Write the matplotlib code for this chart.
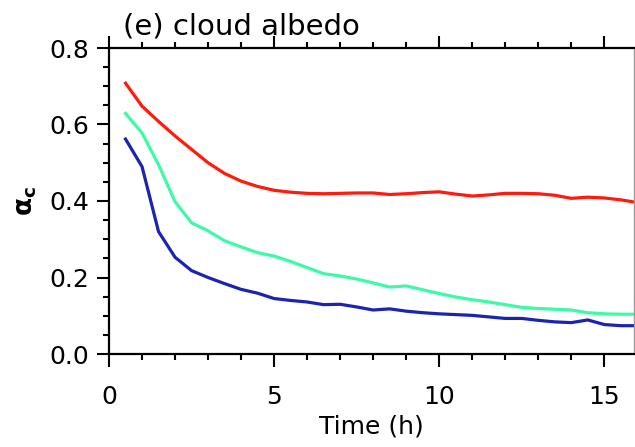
import numpy as np
import matplotlib
matplotlib.use('Agg')
import matplotlib.pyplot as plt
from matplotlib.ticker import MultipleLocator, FormatStrFormatter

# time axis, half-hourly output
time_h = np.arange(0.5, 16.01, 0.5)

# cloud albedo for the three runs
alpha_red = [0.708, 0.648, 0.608, 0.570, 0.535, 0.500, 0.472, 0.452,
             0.438, 0.428, 0.423, 0.420, 0.419, 0.420, 0.421, 0.421,
             0.417, 0.419, 0.422, 0.424, 0.418, 0.413, 0.416, 0.420,
             0.420, 0.419, 0.415, 0.407, 0.410, 0.408, 0.403, 0.396]
alpha_green = [0.629, 0.578, 0.495, 0.398, 0.343, 0.322, 0.296, 0.280,
               0.265, 0.256, 0.242, 0.226, 0.210, 0.204, 0.196, 0.186,
               0.175, 0.178, 0.168, 0.158, 0.149, 0.142, 0.136, 0.129,
               0.122, 0.119, 0.117, 0.115, 0.108, 0.105, 0.104, 0.104]
alpha_blue = [0.562, 0.490, 0.320, 0.253, 0.218, 0.200, 0.184, 0.169,
              0.159, 0.145, 0.140, 0.136, 0.129, 0.130, 0.123, 0.115,
              0.118, 0.112, 0.108, 0.105, 0.103, 0.101, 0.097, 0.093,
              0.093, 0.088, 0.084, 0.082, 0.089, 0.077, 0.074, 0.074]

fig = plt.figure(figsize=(6.35, 4.47), dpi=100)
ax = fig.add_axes([109/635, 93/447, 525/635, 306/447])

ax.plot(time_h, alpha_red, color='#ff1a0d', lw=2.3)
ax.plot(time_h, alpha_green, color='#3dfaa8', lw=2.3)
ax.plot(time_h, alpha_blue, color='#1a24b0', lw=2.3)

ax.set_xlim(0, 15.9)
ax.set_ylim(0, 0.8)
ax.xaxis.set_major_locator(MultipleLocator(5))
ax.xaxis.set_minor_locator(MultipleLocator(1))
ax.yaxis.set_major_locator(MultipleLocator(0.2))
ax.yaxis.set_minor_locator(MultipleLocator(0.05))
ax.yaxis.set_major_formatter(FormatStrFormatter('%.1f'))

for s in ax.spines.values():
    s.set_linewidth(1.6)
ax.spines['right'].set_color('#999999')
ax.spines['right'].set_linewidth(1.0)

ax.tick_params(which='both', direction='out', width=1.5, top=True, right=False)
ax.tick_params(which='major', length=9)
ax.tick_params(which='minor', length=4.5)
ax.tick_params(axis='x', which='major', labelsize=18, pad=13)
ax.tick_params(axis='y', which='major', labelsize=18, pad=5)

ax.set_xlabel('Time (h)', fontsize=18, labelpad=4)
ax.set_ylabel(r'$\mathbf{\alpha_c}$', fontsize=19, labelpad=8)

ax.text(0.027, 1.045, '(e) cloud albedo', transform=ax.transAxes,
        fontsize=21, ha='left', va='baseline')

fig.savefig('out.png', dpi=100)
